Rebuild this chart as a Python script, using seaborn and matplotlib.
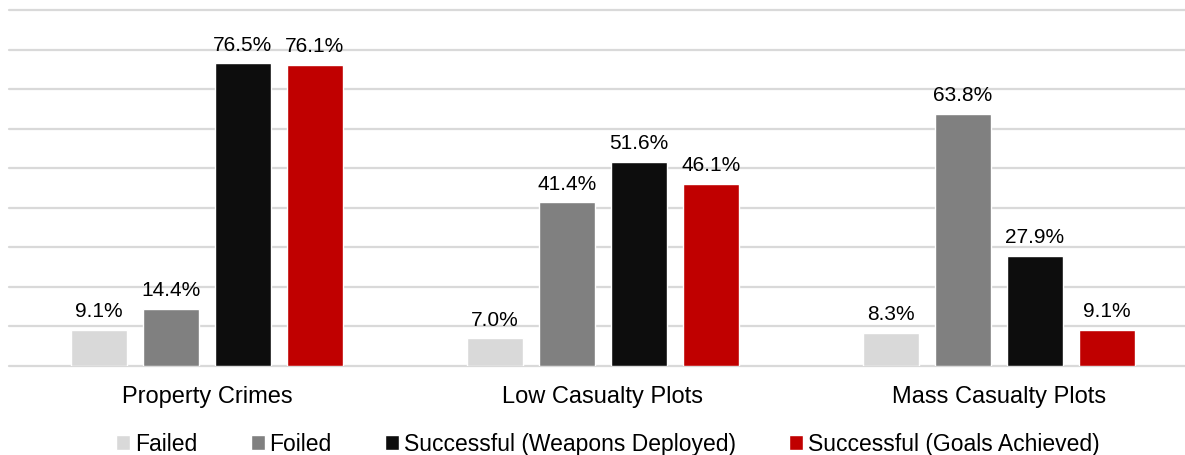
import pandas as pd
import matplotlib.pyplot as plt
import seaborn as sns

categories = ['Property Crimes', 'Low Casualty Plots', 'Mass Casualty Plots']
outcomes = ['Failed', 'Foiled', 'Successful (Weapons Deployed)', 'Successful (Goals Achieved)']
failed = [9.1, 7.0, 8.3]
foiled = [14.4, 41.4, 63.8]
weapons_deployed = [76.5, 51.6, 27.9]
goals_achieved = [76.1, 46.1, 9.1]
colors = ['#d9d9d9', '#808080', '#0d0d0d', '#c00000']

sns.set_style("white")
plt.rcParams['font.family'] = ['Liberation Sans', 'DejaVu Sans']
plt.rcParams['text.color'] = 'black'
plt.rcParams['xtick.color'] = 'black'

rows = []
for outcome, vals in zip(outcomes, [failed, foiled, weapons_deployed, goals_achieved]):
    for cat, v in zip(categories, vals):
        rows.append({'category': cat, 'outcome': outcome, 'pct': v})
df = pd.DataFrame(rows)

fig = plt.figure(figsize=(11.85, 4.56), dpi=100)
ax = fig.add_axes([9 / 1185, 89 / 456, 1 - 9 / 1185, (367 - 11) / 456])

sns.barplot(data=df, x='category', y='pct', hue='outcome', order=categories,
            hue_order=outcomes, palette=colors, width=0.727, gap=0.22,
            saturation=1, errorbar=None, ax=ax)

for c in ax.containers:
    ax.bar_label(c, fmt='%.1f%%', padding=7, fontsize=15, color='black')

ax.set_ylim(0, 90)
ax.set_xlim(-0.5, 2.47)
ax.set_yticks(range(0, 91, 10))
ax.set_yticklabels([])
ax.yaxis.grid(True, color='#d9d9d9', linewidth=1.6)
for gl in ax.get_ygridlines():
    gl.set_clip_on(False)
ax.set_axisbelow(True)
ax.tick_params(axis='x', length=0, pad=14, labelsize=17, labelcolor='black')
ax.tick_params(axis='y', length=0)
ax.set_xlabel('')
ax.set_ylabel('')
sns.despine(ax=ax, left=True, bottom=True)

handles, labels = ax.get_legend_handles_labels()
ax.get_legend().remove()
fig.legend(handles, labels, loc='lower center', bbox_to_anchor=(0.513, -0.046), ncol=4,
           frameon=False, fontsize=16.5, handlelength=0.6, handleheight=0.6,
           handletextpad=0.2, columnspacing=2.35)

fig.savefig('out.png', dpi=100)
plt.close()
